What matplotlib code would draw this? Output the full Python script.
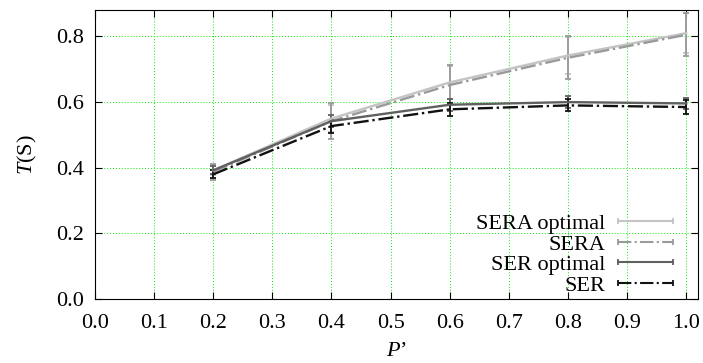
import matplotlib
matplotlib.use("Agg")
import matplotlib.pyplot as plt
from matplotlib.lines import Line2D
from matplotlib.legend_handler import HandlerLine2D

plt.rcParams['font.family'] = ['Liberation Serif', 'DejaVu Serif']
plt.rcParams['mathtext.fontset'] = 'custom'
plt.rcParams['mathtext.it'] = 'Liberation Serif:italic'
plt.rcParams['mathtext.rm'] = 'Liberation Serif'

# data
p_vals = [0.2, 0.4, 0.6, 0.8, 1.0]

sera_opt = [0.392, 0.550, 0.660, 0.742, 0.810]
sera_opt_err = [0.015, 0.040, 0.050, 0.055, 0.060]

sera = [0.388, 0.542, 0.652, 0.735, 0.805]
sera_err = [0.025, 0.055, 0.060, 0.065, 0.065]

ser_opt = [0.392, 0.542, 0.592, 0.600, 0.596]
ser_opt_err = [0.012, 0.018, 0.018, 0.018, 0.018]

ser = [0.380, 0.527, 0.578, 0.590, 0.585]
ser_err = [0.012, 0.020, 0.020, 0.018, 0.020]

labels = ['SERA optimal', 'SERA', 'SER optimal', 'SER']
colors = ['#c4c4c4', '#9a9a9a', '#606060', '#111111']
styles = ['-', '-.', '-', '-.']

fig, ax = plt.subplots(figsize=(7.03, 3.63), dpi=100)
fig.subplots_adjust(left=0.135, right=0.993, top=0.972, bottom=0.176)

ax.grid(True, color='#00ee00', linestyle=(0, (1, 2)), linewidth=0.7)
ax.set_axisbelow(True)

series = [(sera_opt, sera_opt_err), (sera, sera_err), (ser_opt, ser_opt_err), (ser, ser_err)]
handles = []
for (y, e), lab, c, ls in zip(series, labels, colors, styles):
    ax.errorbar(p_vals, y, yerr=e, color=c, linestyle=ls, capsize=2.5,
                elinewidth=1.3, capthick=1.3, linewidth=1.7)
    handles.append(Line2D([], [], color=c, linestyle=ls, linewidth=1.5,
                          marker='|', markersize=5, markeredgewidth=1.3))

ax.set_xlim(0.0, 1.02)
ax.set_ylim(0.0, 0.88)
ax.set_xticks([0.0, 0.1, 0.2, 0.3, 0.4, 0.5, 0.6, 0.7, 0.8, 0.9, 1.0])
ax.set_yticks([0.0, 0.2, 0.4, 0.6, 0.8])
ax.tick_params(direction='in', labelsize=16, length=5, top=True, right=True)
ax.tick_params(axis='x', pad=11)
ax.tick_params(axis='y', pad=8)
ax.set_xlabel("$P$\u2019", fontsize=16, labelpad=6)
ax.set_ylabel("$T$(S)", fontsize=16, labelpad=12)

ax.legend(handles, labels, loc='lower right', bbox_to_anchor=(0.959, 0.012),
          frameon=False, markerfirst=False, fontsize=16, handlelength=2.5,
          labelspacing=0.0, numpoints=2, borderaxespad=0.0, borderpad=0.0,
          handletextpad=0.55,
          handler_map={Line2D: HandlerLine2D(marker_pad=0.0)})

fig.savefig('out.png')
